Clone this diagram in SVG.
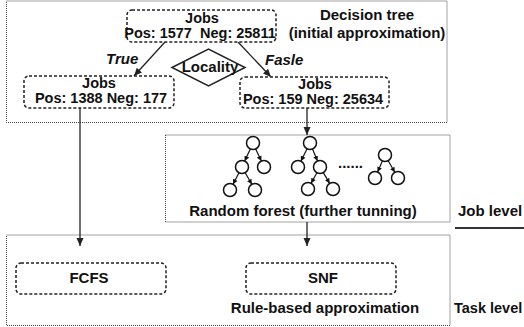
<svg xmlns="http://www.w3.org/2000/svg" width="524" height="327" viewBox="0 0 524 327">
<defs>
<marker id="ah" markerUnits="userSpaceOnUse" markerWidth="9" markerHeight="9" refX="8" refY="4.5" orient="auto"><path d="M0,1 L8,4.5 L0,8 z" fill="#222"/></marker>
<marker id="sh" markerUnits="userSpaceOnUse" markerWidth="6" markerHeight="6" refX="5" refY="3" orient="auto"><path d="M0,0.5 L5,3 L0,5.5 z" fill="#111"/></marker>
<style>
text{font-family:"Liberation Sans",Arial,sans-serif;font-weight:bold;font-size:15px;fill:#111}
.n{font-size:14.5px}
.c{text-anchor:middle}
.i{font-style:italic}
.outer{fill:none;stroke:#444;stroke-width:1;stroke-dasharray:1 1}
.node{fill:#fff;stroke:#222;stroke-width:1.5;stroke-dasharray:3 2}
.conn{stroke:#222;stroke-width:1.3;fill:none;marker-end:url(#ah)}
.tc{fill:#fff;stroke:#111;stroke-width:1.5}
.te{stroke:#111;stroke-width:1.2;marker-end:url(#sh)}
</style>
</defs>
<rect width="524" height="327" fill="#fff"/>
<g id="regions">
<rect class="outer" x="6.5" y="1" width="440.5" height="121.5"/>
<rect class="outer" x="165.5" y="135" width="284.5" height="87"/>
<rect class="outer" x="6.5" y="235" width="443.5" height="90.5"/>
<line x1="455" y1="228" x2="524" y2="228" stroke="#333" stroke-width="2"/>
</g>
<g id="labels">
<text class="c" x="367" y="20">Decision tree</text>
<text class="c" x="367" y="38">(initial approximation)</text>
<text class="i" x="106" y="64">True</text>
<text class="i" x="265" y="65">Fasle</text>
<text class="c" x="303" y="216">Random forest (further tunning)</text>
<text x="458" y="216">Job level</text>
<text class="c" x="325" y="313">Rule-based approximation</text>
<text x="454" y="313" style="font-size:14.5px">Task level</text>
</g>
<g id="connectors">
<line class="conn" x1="165" y1="42" x2="134" y2="76"/>
<line class="conn" x1="238" y1="42" x2="271" y2="77"/>
<line class="conn" x1="307" y1="108" x2="307" y2="135"/>
<line class="conn" x1="80" y1="108" x2="80" y2="246"/>
<line class="conn" x1="307" y1="222" x2="307" y2="246"/>
</g>
<g id="jobs-root">
<rect class="node" x="127" y="10" width="149" height="32" rx="5"/>
<text class="c n" x="202" y="22.5">Jobs</text>
<text class="c n" x="200" y="38">Pos: 1577&#160; Neg: 25811</text>
</g>
<g id="locality">
<polygon points="172,67.5 208.5,49 245,67.5 208.5,86" fill="#fff" stroke="#222" stroke-width="1.5"/>
<text class="c" x="210" y="72">Locality</text>
</g>
<g id="jobs-true">
<rect class="node" x="24" y="76" width="150" height="32" rx="5"/>
<text class="c n" x="99" y="87.5">Jobs</text>
<text class="c n" x="101" y="103">Pos: 1388 Neg: 177</text>
</g>
<g id="jobs-false">
<rect class="node" x="240" y="77" width="149" height="31" rx="5"/>
<text class="c n" x="315" y="88.5">Jobs</text>
<text class="c n" x="313" y="104">Pos: 159 Neg: 25634</text>
</g>
<g id="forest">
<line class="te" x1="250.3" y1="148.9" x2="244.7" y2="161.1"/>
<line class="te" x1="255.7" y1="148.9" x2="261.3" y2="161.1"/>
<line class="te" x1="239" y1="172.8" x2="233" y2="184.2"/>
<line class="te" x1="245.2" y1="172.7" x2="251.8" y2="184.3"/>
<line class="te" x1="307.1" y1="148.8" x2="300.9" y2="161.2"/>
<line class="te" x1="312.5" y1="149" x2="317.5" y2="161"/>
<line class="te" x1="316.9" y1="172.7" x2="311.1" y2="183.3"/>
<line class="te" x1="323.3" y1="172.6" x2="329.7" y2="183.4"/>
<line class="te" x1="382.4" y1="161" x2="377.6" y2="172"/>
<line class="te" x1="388.2" y1="160.7" x2="394.8" y2="172.3"/>
<circle class="tc" cx="253" cy="143" r="6.5"/>
<circle class="tc" cx="242" cy="167" r="6.5"/>
<circle class="tc" cx="264" cy="167" r="6.5"/>
<circle class="tc" cx="230" cy="190" r="6.5"/>
<circle class="tc" cx="255" cy="190" r="6.5"/>
<circle class="tc" cx="310" cy="143" r="6.5"/>
<circle class="tc" cx="298" cy="167" r="6.5"/>
<circle class="tc" cx="320" cy="167" r="6.5"/>
<circle class="tc" cx="308" cy="189" r="6.5"/>
<circle class="tc" cx="333" cy="189" r="6.5"/>
<circle class="tc" cx="385" cy="155" r="6.5"/>
<circle class="tc" cx="375" cy="178" r="6.5"/>
<circle class="tc" cx="398" cy="178" r="6.5"/>
<text x="338" y="168">......</text>
</g>
<g id="fcfs">
<rect class="node" x="16" y="263" width="150" height="31" rx="5"/>
<text class="c" x="89" y="283">FCFS</text>
</g>
<g id="snf">
<rect class="node" x="246" y="263" width="150" height="31" rx="5"/>
<text class="c" x="323" y="283">SNF</text>
</g>
</svg>
